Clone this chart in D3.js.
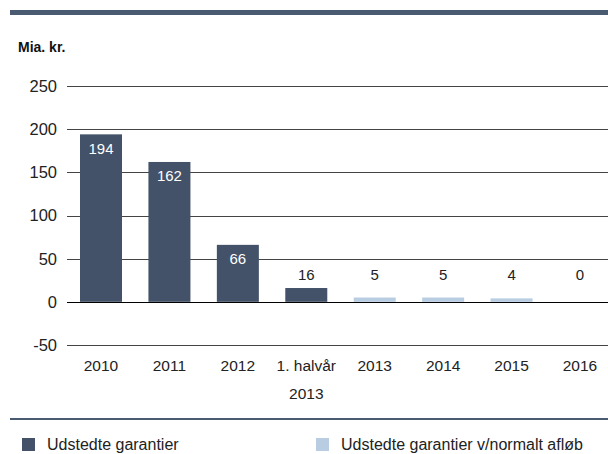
<!DOCTYPE html>
<html>
<head>
<meta charset="utf-8">
<script src="https://cdn.jsdelivr.net/npm/d3@7"></script>
<style>
  body { margin: 0; background: #fff; }
  text { font-family: "Liberation Sans", Arial, sans-serif; }
</style>
</head>
<body>
<script>
let width = 608,
    height = 454;

// data
let categories = ["2010", "2011", "2012", "1. halvår|2013", "2013", "2014", "2015", "2016"];
let values = [194, 162, 66, 16, 5, 5, 4, 0];
let series = ["dark", "dark", "dark", "dark", "light", "light", "light", "light"];
let yTicks = [-50, 0, 50, 100, 150, 200, 250];
let legendLabels = ["Udstedte garantier", "Udstedte garantier v/normalt afløb"];

let colors = { dark: "#435269", light: "#b8cde2" };

let svg = d3.select("body")
    .append("svg")
    .attr("width", width)
    .attr("height", height);

// top band
svg.append("rect")
    .attr("x", 10).attr("y", 10)
    .attr("width", width - 10).attr("height", 5)
    .attr("fill", "#4a5a70");

svg.append("text")
    .attr("x", 18)
    .attr("y", 52)
    .style("font-size", "14px")
    .style("font-weight", "bold")
    .attr("fill", "#111")
    .text("Mia. kr.");

let y = d3.scaleLinear()
    .domain([-50, 250])
    .range([345, 86]);

let x = d3.scalePoint()
    .domain(categories)
    .range([101, 580]);

let barW = 42;

// gridlines
svg.append("g")
    .selectAll("line")
    .data(yTicks)
    .enter()
    .append("line")
    .attr("x1", 67)
    .attr("x2", width)
    .attr("y1", d => Math.round(y(d)) + 0.5)
    .attr("y2", d => Math.round(y(d)) + 0.5)
    .attr("stroke", d => d === 0 ? "#000" : "#444")
    .attr("stroke-width", 1.2);

svg.append("g")
    .selectAll("text")
    .data(yTicks)
    .enter()
    .append("text")
    .attr("x", 57)
    .attr("y", d => y(d))
    .attr("dy", "0.36em")
    .attr("text-anchor", "end")
    .style("font-size", "16.5px")
    .attr("fill", "#222")
    .text(d => d);

// bars
svg.append("g")
    .selectAll("rect")
    .data(values)
    .enter()
    .append("rect")
    .attr("x", (d, i) => x(categories[i]) - barW / 2)
    .attr("y", d => y(d))
    .attr("width", barW)
    .attr("height", d => y(0) - y(d))
    .attr("fill", (d, i) => colors[series[i]]);

// value labels
svg.append("g")
    .selectAll("text")
    .data(values)
    .enter()
    .append("text")
    .attr("x", (d, i) => x(categories[i]))
    .attr("y", d => d > 30 ? y(d) + 14 : y(0) - 27)
    .attr("dy", "0.36em")
    .attr("text-anchor", "middle")
    .style("font-size", "15px")
    .attr("fill", d => d > 30 ? "#fff" : "#222")
    .text(d => d);

// category labels
let cat = svg.append("g")
    .selectAll("text")
    .data(categories)
    .enter()
    .append("text")
    .attr("text-anchor", "middle")
    .style("font-size", "15.5px")
    .attr("fill", "#222");

cat.selectAll("tspan")
    .data(d => d.split("|").map(t => ({ t: t, c: d })))
    .enter()
    .append("tspan")
    .attr("x", d => x(d.c))
    .attr("y", (d, i) => 365 + i * 28)
    .attr("dy", "0.36em")
    .text(d => d.t);

// bottom separator
svg.append("rect")
    .attr("x", 10).attr("y", 418)
    .attr("width", width - 10).attr("height", 2)
    .attr("fill", "#4a5a70");

// legend
let legX = [22, 316];
let legend = svg.append("g")
    .selectAll("g")
    .data(legendLabels)
    .enter()
    .append("g")
    .attr("transform", (d, i) => "translate(" + legX[i] + ",438)");

legend.append("rect")
    .attr("width", 13)
    .attr("height", 13)
    .attr("fill", (d, i) => colors[i === 0 ? "dark" : "light"]);

legend.append("text")
    .attr("x", 25)
    .attr("y", 6.5)
    .attr("dy", "0.36em")
    .style("font-size", "16px")
    .attr("fill", "#222")
    .text(d => d);
</script>
</body>
</html>
